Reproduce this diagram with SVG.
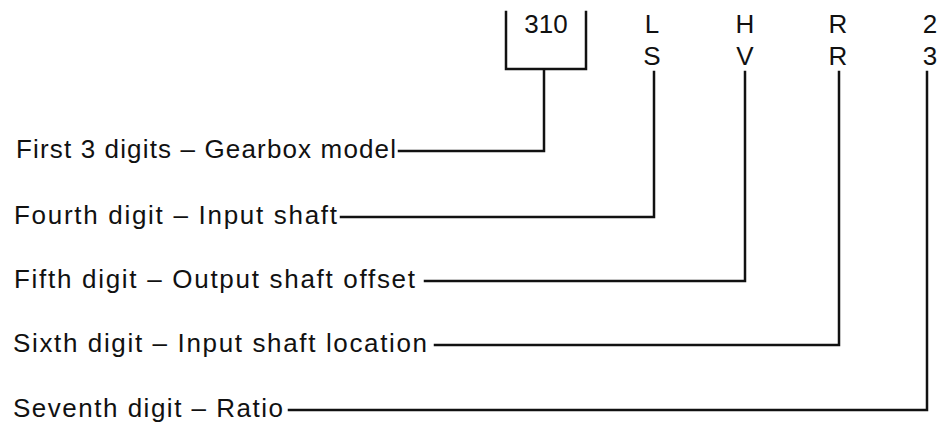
<svg xmlns="http://www.w3.org/2000/svg" width="937" height="425" viewBox="0 0 937 425">
<style>
text { font-family: "Liberation Sans", Arial, sans-serif; font-size: 26px; fill: #111; }
.code { text-anchor: middle; }
.ln { fill: none; stroke: #111; stroke-width: 2.5; stroke-linecap: square; stroke-linejoin: miter; }
</style>
<rect width="937" height="425" fill="#fff"/>
<g id="code-model">
  <path class="ln" d="M506,12 V69 H586 V12"/>
  <text class="code" x="546" y="33">310</text>
</g>
<g id="code-4"><text class="code" x="652" y="33">L</text><text class="code" x="652" y="65">S</text></g>
<g id="code-5"><text class="code" x="745" y="33">H</text><text class="code" x="745" y="65">V</text></g>
<g id="code-6"><text class="code" x="838" y="33">R</text><text class="code" x="838" y="65">R</text></g>
<g id="code-7"><text class="code" x="930" y="33">2</text><text class="code" x="930" y="65">3</text></g>
<g id="label-1"><text x="16" y="158" textLength="380" lengthAdjust="spacing">First 3 digits – Gearbox model</text></g>
<g id="label-2"><text x="14" y="224" textLength="323" lengthAdjust="spacing">Fourth digit – Input shaft</text></g>
<g id="label-3"><text x="14" y="288" textLength="401" lengthAdjust="spacing">Fifth digit – Output shaft offset</text></g>
<g id="label-4"><text x="13" y="352" textLength="414" lengthAdjust="spacing">Sixth digit – Input shaft location</text></g>
<g id="label-5"><text x="13" y="417" textLength="270" lengthAdjust="spacing">Seventh digit – Ratio</text></g>
<g id="connectors">
  <path class="ln" d="M399,151 H544 V70"/>
  <path class="ln" d="M341,217 H654 V72"/>
  <path class="ln" d="M425,281 H745 V72"/>
  <path class="ln" d="M435,345 H839 V72"/>
  <path class="ln" d="M289,410 H927 V72"/>
</g>
</svg>
